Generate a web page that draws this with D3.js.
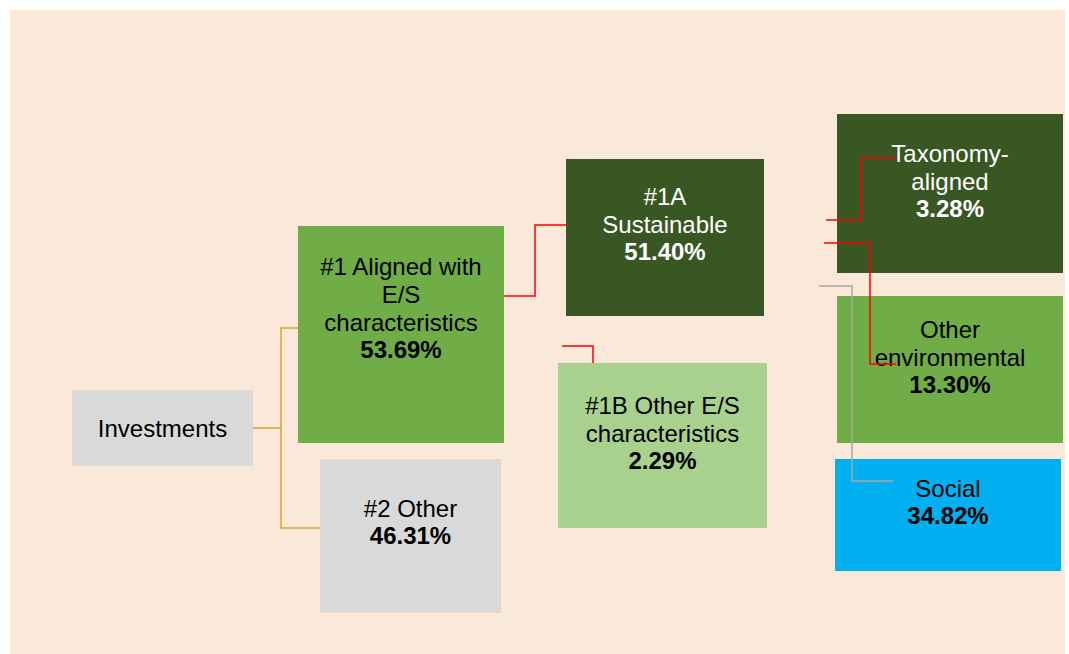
<!DOCTYPE html>
<html>
<head>
<meta charset="utf-8">
<script src="https://cdnjs.cloudflare.com/ajax/libs/d3/7.8.5/d3.min.js"></script>
<style>
  body { margin: 0; background: #fff; }
  svg text { font-family: "Liberation Sans", Arial, sans-serif; }
</style>
</head>
<body>
<div class="svgContainer"></div>
<script>
// categories and their shares
let names = ["Investments", "#1 Aligned with E/S characteristics", "#2 Other",
  "#1A Sustainable", "#1B Other E/S characteristics",
  "Taxonomy-aligned", "Other environmental", "Social"];
let shares = [null, 53.69, 46.31, 51.40, 2.29, 3.28, 13.30, 34.82];
// wrapped label lines as they appear in the boxes
let labelLines = [
  ["Investments"],
  ["#1 Aligned with", "E/S", "characteristics"],
  ["#2 Other"],
  ["#1A", "Sustainable"],
  ["#1B Other E/S", "characteristics"],
  ["Taxonomy-", "aligned"],
  ["Other", "environmental"],
  ["Social"]
];

let width = 1069,
  height = 654;

// box layout [x, y, w, h, fill, text colour, first line y]
let layout = [
  [72, 390, 181, 76, "#d9d9d9", "#000", 428],
  [298, 226, 206, 217, "#70ad47", "#000", 266],
  [320, 459, 181, 154, "#d9d9d9", "#000", 508],
  [566, 159, 198, 157, "#385723", "#fff", 196],
  [558, 363, 209, 165, "#a9d18e", "#000", 405],
  [837, 114, 226, 159, "#385723", "#fff", 153],
  [837, 296, 226, 147, "#70ad47", "#000", 329],
  [835, 459, 226, 112, "#00b0f0", "#000", 488]
];

// connector polylines
let connectors = [
  { c: "#d4a52c", p: [[253, 428], [281, 428]] },
  { c: "#d4a52c", p: [[298, 328], [281, 328], [281, 528], [320, 528]] },
  { c: "#ff0000", p: [[504, 296], [535, 296], [535, 225], [566, 225]] },
  { c: "#ff0000", p: [[562, 346], [593, 346], [593, 363]] },
  { c: "#ff0000", p: [[826, 220], [861, 220], [861, 158], [896, 158]] },
  { c: "#ff0000", p: [[824, 243], [870, 243], [870, 364], [896, 364]] },
  { c: "#a6a6a6", p: [[819, 286], [852, 286], [852, 481], [893, 481]] }
];

let svg = d3
  .select(".svgContainer")
  .append("svg")
  .attr("width", width)
  .attr("height", height);

svg
  .append("rect")
  .attr("x", 10)
  .attr("y", 10)
  .attr("width", 1055)
  .attr("height", 644)
  .style("fill", "#fae8d8");

let nodes = names.map((n, i) => ({
  name: n,
  share: shares[i],
  lines: labelLines[i],
  box: layout[i]
}));

let g = svg
  .selectAll("g.node")
  .data(nodes)
  .enter()
  .append("g")
  .attr("class", "node");

g.append("rect")
  .attr("x", d => d.box[0])
  .attr("y", d => d.box[1])
  .attr("width", d => d.box[2])
  .attr("height", d => d.box[3])
  .style("fill", d => d.box[4]);

g.each(function(d) {
  let t = d3
    .select(this)
    .append("text")
    .attr("text-anchor", "middle")
    .style("fill", d.box[5])
    .style("font-size", "24px");
  let cx = d.box[0] + d.box[2] / 2;
  d.lines.forEach((l, i) => {
    t.append("tspan")
      .attr("x", cx)
      .attr("y", d.box[6] + 28 * i + 9)
      .text(l);
  });
  if (d.share !== null) {
    t.append("tspan")
      .attr("x", cx)
      .attr("y", d.box[6] + 28 * d.lines.length + 8)
      .style("font-weight", "bold")
      .text(d.share.toFixed(2) + "%");
  }
});

let line = d3.line();

svg
  .selectAll("path.conn")
  .data(connectors)
  .enter()
  .append("path")
  .attr("class", "conn")
  .attr("d", d => line(d.p))
  .style("fill", "none")
  .style("stroke", d => d.c)
  .style("stroke-width", 1.5);
</script>
</body>
</html>
